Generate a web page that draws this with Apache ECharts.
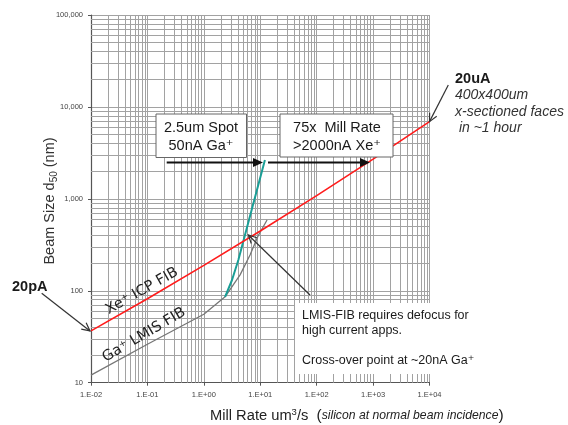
<!DOCTYPE html>
<html>
<head>
<meta charset="utf-8">
<script src="https://cdn.jsdelivr.net/npm/echarts@6/dist/echarts.min.js"></script>
<style>
  html, body { margin: 0; padding: 0; background: #fff; }
  #chart { width: 568px; height: 425px; }
</style>
</head>
<body>
<div id="chart"></div>
<script>
// Decade ticks (mill rate in um^3/s, beam size d50 in nm)
const rateTicks = [0.01, 0.1, 1, 10, 100, 1000, 10000];
const sizeTicks = [10, 100, 1000, 10000, 100000];

// Xe+ ICP FIB: beam size vs. mill rate
const xeRate = [0.01, 0.1, 1, 10, 100, 1000, 10000];
const xeSize = [36.6, 82, 189, 447, 1086, 2704, 6920];

// Ga+ LMIS FIB: beam size vs. mill rate
const gaRate = [0.01, 0.1, 1, 2.38, 4.39, 6.59, 9.14, 13.2];
const gaSize = [12.1, 26.2, 55.6, 86, 149, 245, 394, 589];

// Ga+ LMIS pushed to 50nA (2.5um spot)
const gaHiRate = [2.38, 3.16, 4.09, 6.59, 12.1];
const gaHiSize = [86, 131, 216, 650, 2650];

const zip = (a, b) => a.map((v, i) => [v, b[i]]);

// log-paper minor lines: 2..9 inside each decade
function minorLines(ticks) {
  const out = [];
  for (let i = 0; i < ticks.length - 1; i++) {
    for (let m = 2; m <= 9; m++) out.push(+(ticks[i] * m).toPrecision(3));
  }
  return out;
}

const FONT = '"Liberation Sans", Arial, "DejaVu Sans", sans-serif';
const GRID_COLOR = '#a2a2a2';

const chart = echarts.init(document.getElementById('chart'), null, { renderer: 'canvas' });

const rateLabel = v => {
  const e = Math.round(Math.log10(v));
  return '1.E' + (e < 0 ? '-' : '+') + String(Math.abs(e)).padStart(2, '0');
};
const sizeLabel = v => Math.round(v).toLocaleString('en-US');

const axisCommon = {
  type: 'log',
  logBase: 10,
  axisLine: { show: true, lineStyle: { color: '#555', width: 1.2 } },
  axisTick: { show: true, length: 3, lineStyle: { color: '#555' } },
  splitLine: { show: true, lineStyle: { color: GRID_COLOR, width: 1 } },
  minorTick: { show: false },
  minorSplitLine: { show: false }
};

chart.setOption({
  animation: false,
  backgroundColor: '#fff',
  grid: { left: 91, right: 138.5, top: 15, bottom: 42.3, containLabel: false },
  xAxis: Object.assign({}, axisCommon, {
    min: rateTicks[0],
    max: rateTicks[rateTicks.length - 1],
    splitNumber: rateTicks.length - 1,
    axisLabel: { fontSize: 7.5, color: '#444', margin: 8, fontFamily: FONT, formatter: rateLabel }
  }),
  yAxis: Object.assign({}, axisCommon, {
    min: sizeTicks[0],
    max: sizeTicks[sizeTicks.length - 1],
    splitNumber: sizeTicks.length - 1,
    axisLabel: { fontSize: 7.5, color: '#444', margin: 8, fontFamily: FONT, formatter: sizeLabel }
  }),
  series: [
    {
      name: 'Ga+ LMIS FIB',
      type: 'line',
      data: zip(gaRate, gaSize),
      symbol: 'none',
      z: 3,
      lineStyle: { color: '#777', width: 1.3 },
      markLine: {
        silent: true,
        z: 1,
        symbol: ['none', 'none'],
        label: { show: false },
        lineStyle: { color: GRID_COLOR, width: 1, type: 'solid' },
        emphasis: { disabled: true },
        data: minorLines(rateTicks).map(v => ({ xAxis: v }))
          .concat(minorLines(sizeTicks).map(v => ({ yAxis: v })))
      }
    },
    {
      name: 'Ga+ LMIS 50nA',
      type: 'line',
      data: zip(gaHiRate, gaHiSize),
      symbol: 'none',
      z: 4,
      lineStyle: { color: '#1a9e96', width: 2 }
    },
    {
      name: 'Xe+ ICP FIB',
      type: 'line',
      data: zip(xeRate, xeSize),
      symbol: 'none',
      z: 5,
      lineStyle: { color: '#ff1c1c', width: 1.6 }
    }
  ]
});

// ---- annotations ----
function arrow(x1, y1, x2, y2, o) {
  const a = Math.atan2(y2 - y1, x2 - x1);
  const c = Math.cos(a), s = Math.sin(a);
  const bx = x2 - o.head * c, by = y2 - o.head * s;
  const p1 = [bx + o.half * s, by - o.half * c];
  const p2 = [bx - o.half * s, by + o.half * c];
  const els = [];
  if (o.filled) {
    els.push({ type: 'line', shape: { x1, y1, x2: bx + c, y2: by + s },
      style: { stroke: o.color, lineWidth: o.width } });
    els.push({ type: 'polygon', shape: { points: [[x2, y2], p1, p2] },
      style: { fill: o.color } });
  } else {
    els.push({ type: 'line', shape: { x1, y1, x2, y2 },
      style: { stroke: o.color, lineWidth: o.width } });
    els.push({ type: 'polyline', shape: { points: [p1, [x2, y2], p2] },
      style: { stroke: o.color, lineWidth: o.width, fill: null } });
  }
  return els;
}

function text(x, y, str, st, extra) {
  return Object.assign({
    type: 'text', x, y,
    style: Object.assign({
      text: str, fill: '#1a1a1a', fontFamily: FONT, fontSize: 13,
      align: 'left', verticalAlign: 'middle'
    }, st)
  }, extra || {});
}

const xeStart = chart.convertToPixel({ seriesIndex: 2 }, [xeRate[0], xeSize[0]]);
const xeEnd = chart.convertToPixel({ seriesIndex: 2 }, [xeRate[xeRate.length - 1], xeSize[xeSize.length - 1]]);

const thin = { color: '#333', width: 1.2, head: 8, half: 4, filled: false };
const bold = { color: '#111', width: 2, head: 10, half: 4.5, filled: true };

const elements = [
  // text boxes
  { type: 'rect', shape: { x: 156, y: 114, width: 90.5, height: 43.5 },
    style: { fill: '#fff', stroke: '#666', lineWidth: 1 } },
  text(201, 127.5, '2.5um Spot', { fontSize: 14.5, align: 'center' }),
  text(201, 146, '50nA Ga⁺', { fontSize: 14.5, align: 'center' }),

  { type: 'rect', shape: { x: 280, y: 114, width: 113, height: 43 },
    style: { fill: '#fff', stroke: '#666', lineWidth: 1 } },
  text(337, 127.5, '75x  Mill Rate', { fontSize: 14.5, align: 'center' }),
  text(337, 146, '>2000nA Xe⁺', { fontSize: 14.5, align: 'center' }),

  { type: 'rect', shape: { x: 295, y: 303, width: 273, height: 71 },
    style: { fill: '#fff' } },
  text(302, 315.5, 'LMIS-FIB requires defocus for', { fontSize: 12.5 }),
  text(302, 331, 'high current apps.', { fontSize: 12.5 }),
  text(302, 361, 'Cross-over point at ~20nA Ga⁺', { fontSize: 12.5 }),

  // current labels
  text(12, 287, '20pA', { fontSize: 14.5, fontWeight: 'bold' }),
  text(455, 79, '20uA', { fontSize: 14.5, fontWeight: 'bold' }),
  text(455, 95, '400x400um', { fontSize: 14, fontStyle: 'italic', fill: '#333' }),
  text(455, 112, 'x-sectioned faces', { fontSize: 14, fontStyle: 'italic', fill: '#333' }),
  text(455, 128.5, ' in ~1 hour', { fontSize: 14, fontStyle: 'italic', fill: '#333' }),

  // curve labels along the lines
  text(142, 291, 'Xe⁺ ICP FIB',
    { fontSize: 14.5, align: 'center', fontFamily: '"DejaVu Sans", sans-serif', fill: '#222' },
    { rotation: 0.515 }),
  text(144, 335, 'Ga⁺ LMIS FIB',
    { fontSize: 14.5, align: 'center', fontFamily: '"DejaVu Sans", sans-serif', fill: '#222' },
    { rotation: 0.53 }),

  // axis titles
  {
    type: 'text', x: 50, y: 201, rotation: Math.PI / 2,
    style: {
      text: '{a|Beam Size d}{s|50}{a| (nm)}',
      align: 'center', verticalAlign: 'middle',
      rich: {
        a: { fontSize: 14.5, fontFamily: FONT, fill: '#333', lineHeight: 20, verticalAlign: 'middle' },
        s: { fontSize: 10, fontFamily: FONT, fill: '#333', lineHeight: 20, verticalAlign: 'bottom', padding: [0, 0, 1, 0] }
      }
    }
  },
  {
    type: 'text', x: 210, y: 415.5,
    style: {
      text: '{a|Mill Rate um}{u|3}{a|/s  }{p|(}{i|silicon at normal beam incidence}{p|)}',
      align: 'left', verticalAlign: 'middle',
      rich: {
        a: { fontSize: 14.7, fontFamily: FONT, fill: '#222', lineHeight: 20, verticalAlign: 'middle' },
        u: { fontSize: 9.5, fontFamily: FONT, fill: '#222', lineHeight: 20, verticalAlign: 'top', padding: [2, 0, 0, 0] },
        p: { fontSize: 15.5, fontFamily: FONT, fill: '#222', lineHeight: 20, verticalAlign: 'middle' },
        i: { fontSize: 12.2, fontFamily: FONT, fontStyle: 'italic', fill: '#222', lineHeight: 20, verticalAlign: 'middle' }
      }
    }
  }
];

// arrows
[
  arrow(41.7, 293.3, xeStart[0] - 1, xeStart[1], thin),
  arrow(448.3, 85, xeEnd[0], xeEnd[1], thin),
  arrow(310, 295, 248.3, 235, thin),
  arrow(166.7, 162.5, 263, 162.5, bold),
  arrow(268, 162.5, 370, 162.5, bold)
].forEach(a => elements.push(...a));

chart.setOption({ graphic: { elements: elements.map(e => Object.assign({ z: 10 }, e)) } });
</script>
</body>
</html>
